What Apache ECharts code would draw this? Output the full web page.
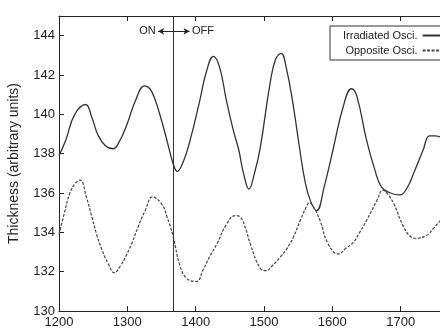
<!DOCTYPE html>
<html><head><meta charset="utf-8">
<script src="https://cdn.jsdelivr.net/npm/echarts@6/dist/echarts.min.js"></script>
<style>html,body{margin:0;padding:0;background:#fff}#c{width:440px;height:328px}</style>
</head><body><div id="c"></div>
<script>
// Irradiated oscillation (solid)
const irrX = [1200,1210,1223,1239,1248,1257,1268,1279,1288,1299,1312,1325,1333,1340,1350,1360,1367,1373,1382,1392,1406,1416,1426,1435,1445,1455,1463,1470,1478,1486,1494,1509,1517,1525,1533,1543,1552,1560,1568,1577,1588,1601,1616,1628,1636,1650,1662,1672,1685,1699,1710,1719,1733,1742,1750,1758];
const irrY = [137.9,138.7,140.0,140.5,139.85,138.95,138.4,138.25,138.6,139.45,140.7,141.45,141.3,140.8,139.7,138.4,137.5,137.1,137.6,138.7,140.7,142.2,142.95,142.4,140.7,139.2,138.2,137.0,136.2,137.0,138.2,141.6,142.8,143.1,142.3,140.4,138.3,136.6,135.6,135.1,136.3,138.2,140.4,141.3,140.9,138.7,137.2,136.3,136.0,135.9,136.3,137.0,138.2,138.9,138.9,138.85];
// Opposite oscillation (dashed)
const oppX = [1200,1208,1216,1224,1231,1240,1248,1255,1263,1272,1281,1290,1298,1306,1316,1326,1337,1350,1358,1367,1377,1387,1401,1411,1421,1431,1445,1458,1466,1473,1480,1494,1503,1512,1524,1534,1543,1553,1562,1566,1574,1582,1594,1609,1620,1631,1640,1650,1665,1674,1682,1690,1704,1714,1722,1738,1748,1758];
const oppY = [133.9,135.0,136.0,136.5,136.65,135.8,134.8,133.9,133.1,132.4,131.95,132.3,132.8,133.4,134.3,135.1,135.8,135.45,134.8,133.8,132.3,131.65,131.5,132.1,132.8,133.4,134.4,134.85,134.75,134.2,133.4,132.2,132.05,132.3,132.75,133.2,133.75,134.6,135.3,135.5,135.2,134.6,133.4,132.9,133.2,133.5,134.0,134.6,135.6,136.15,135.9,135.45,134.3,133.8,133.7,133.85,134.2,134.6];
const switchX = 1367;
const annotY = 144.22;
const seriesNames = ['Irradiated Osci.', 'Opposite Osci.'];
const yAxisName = 'Thickness (arbitrary units)';

const F = 'Liberation Sans, Arial, Helvetica, sans-serif';
const chart = echarts.init(document.getElementById('c'), null, {renderer:'canvas'});
const zip = (a,b) => a.map((v,i)=>[v,b[i]]);
const axisCommon = {
  axisLine:{show:true, lineStyle:{color:'#222', width:1}},
  axisTick:{show:true, inside:true, length:5, lineStyle:{color:'#222'}},
  splitLine:{show:false}
};
chart.setOption({
  animation:false,
  backgroundColor:'#fff',
  grid:{left:59, top:16, bottom:17, right:-29, containLabel:false, outerBoundsMode:'none'},
  xAxis:[
    Object.assign({type:'value', min:1200, max:1800, interval:100, position:'bottom',
      axisLabel:{color:'#222', fontSize:13, fontFamily:F, margin:5, formatter:v=>String(v)}}, axisCommon),
    Object.assign({type:'value', min:1200, max:1800, interval:100, position:'top',
      axisLabel:{show:false}}, axisCommon)
  ],
  yAxis:[
    Object.assign({type:'value', min:130, max:145, interval:2, position:'left',
      name:yAxisName, nameLocation:'middle', nameGap:38,
      nameTextStyle:{color:'#222', fontSize:14, fontFamily:F},
      axisLabel:{color:'#222', fontSize:13, fontFamily:F, margin:4, showMaxLabel:false}}, axisCommon)
  ],
  legend:{
    orient:'vertical', left:330, top:26, align:'right',
    data:seriesNames,
    itemStyle:{opacity:0},
    borderColor:'#333', borderWidth:1, borderRadius:0,
    padding:[4,4,4,13], itemGap:4, itemWidth:24, itemHeight:10,
    textStyle:{color:'#222', fontSize:11, fontFamily:F}
  },
  series:[
    {name:seriesNames[0], type:'line', data:zip(irrX,irrY), smooth:0.45, symbol:'none',
     lineStyle:{color:'#333', width:1.3}, itemStyle:{color:'#333'},
     markLine:{silent:true, symbol:'none', label:{show:false},
       lineStyle:{color:'#333', width:1, type:'solid'},
       data:[{xAxis:switchX}]},
     markPoint:{symbol:'circle', symbolSize:0,
       label:{show:true, color:'#222', fontSize:11, fontFamily:F},
       data:[
         {coord:[1343,annotY], value:'ON', label:{position:'left', distance:1, formatter:'ON'}},
         {coord:[1393,annotY], value:'OFF', label:{position:'right', distance:1, formatter:'OFF'}}
       ]}
    },
    {name:seriesNames[1], type:'line', data:zip(oppX,oppY), smooth:0.45, symbol:'none',
     lineStyle:{color:'#444', width:1.2, type:[3,1.5]}, itemStyle:{color:'#444'},
     markLine:{silent:true, symbol:['arrow','arrow'], symbolSize:[5,6], label:{show:false},
       lineStyle:{color:'#222', width:1, type:'solid'},
       data:[[{coord:[1345,annotY]},{coord:[1391,annotY]}]]}
    }
  ]
});
</script></body></html>
